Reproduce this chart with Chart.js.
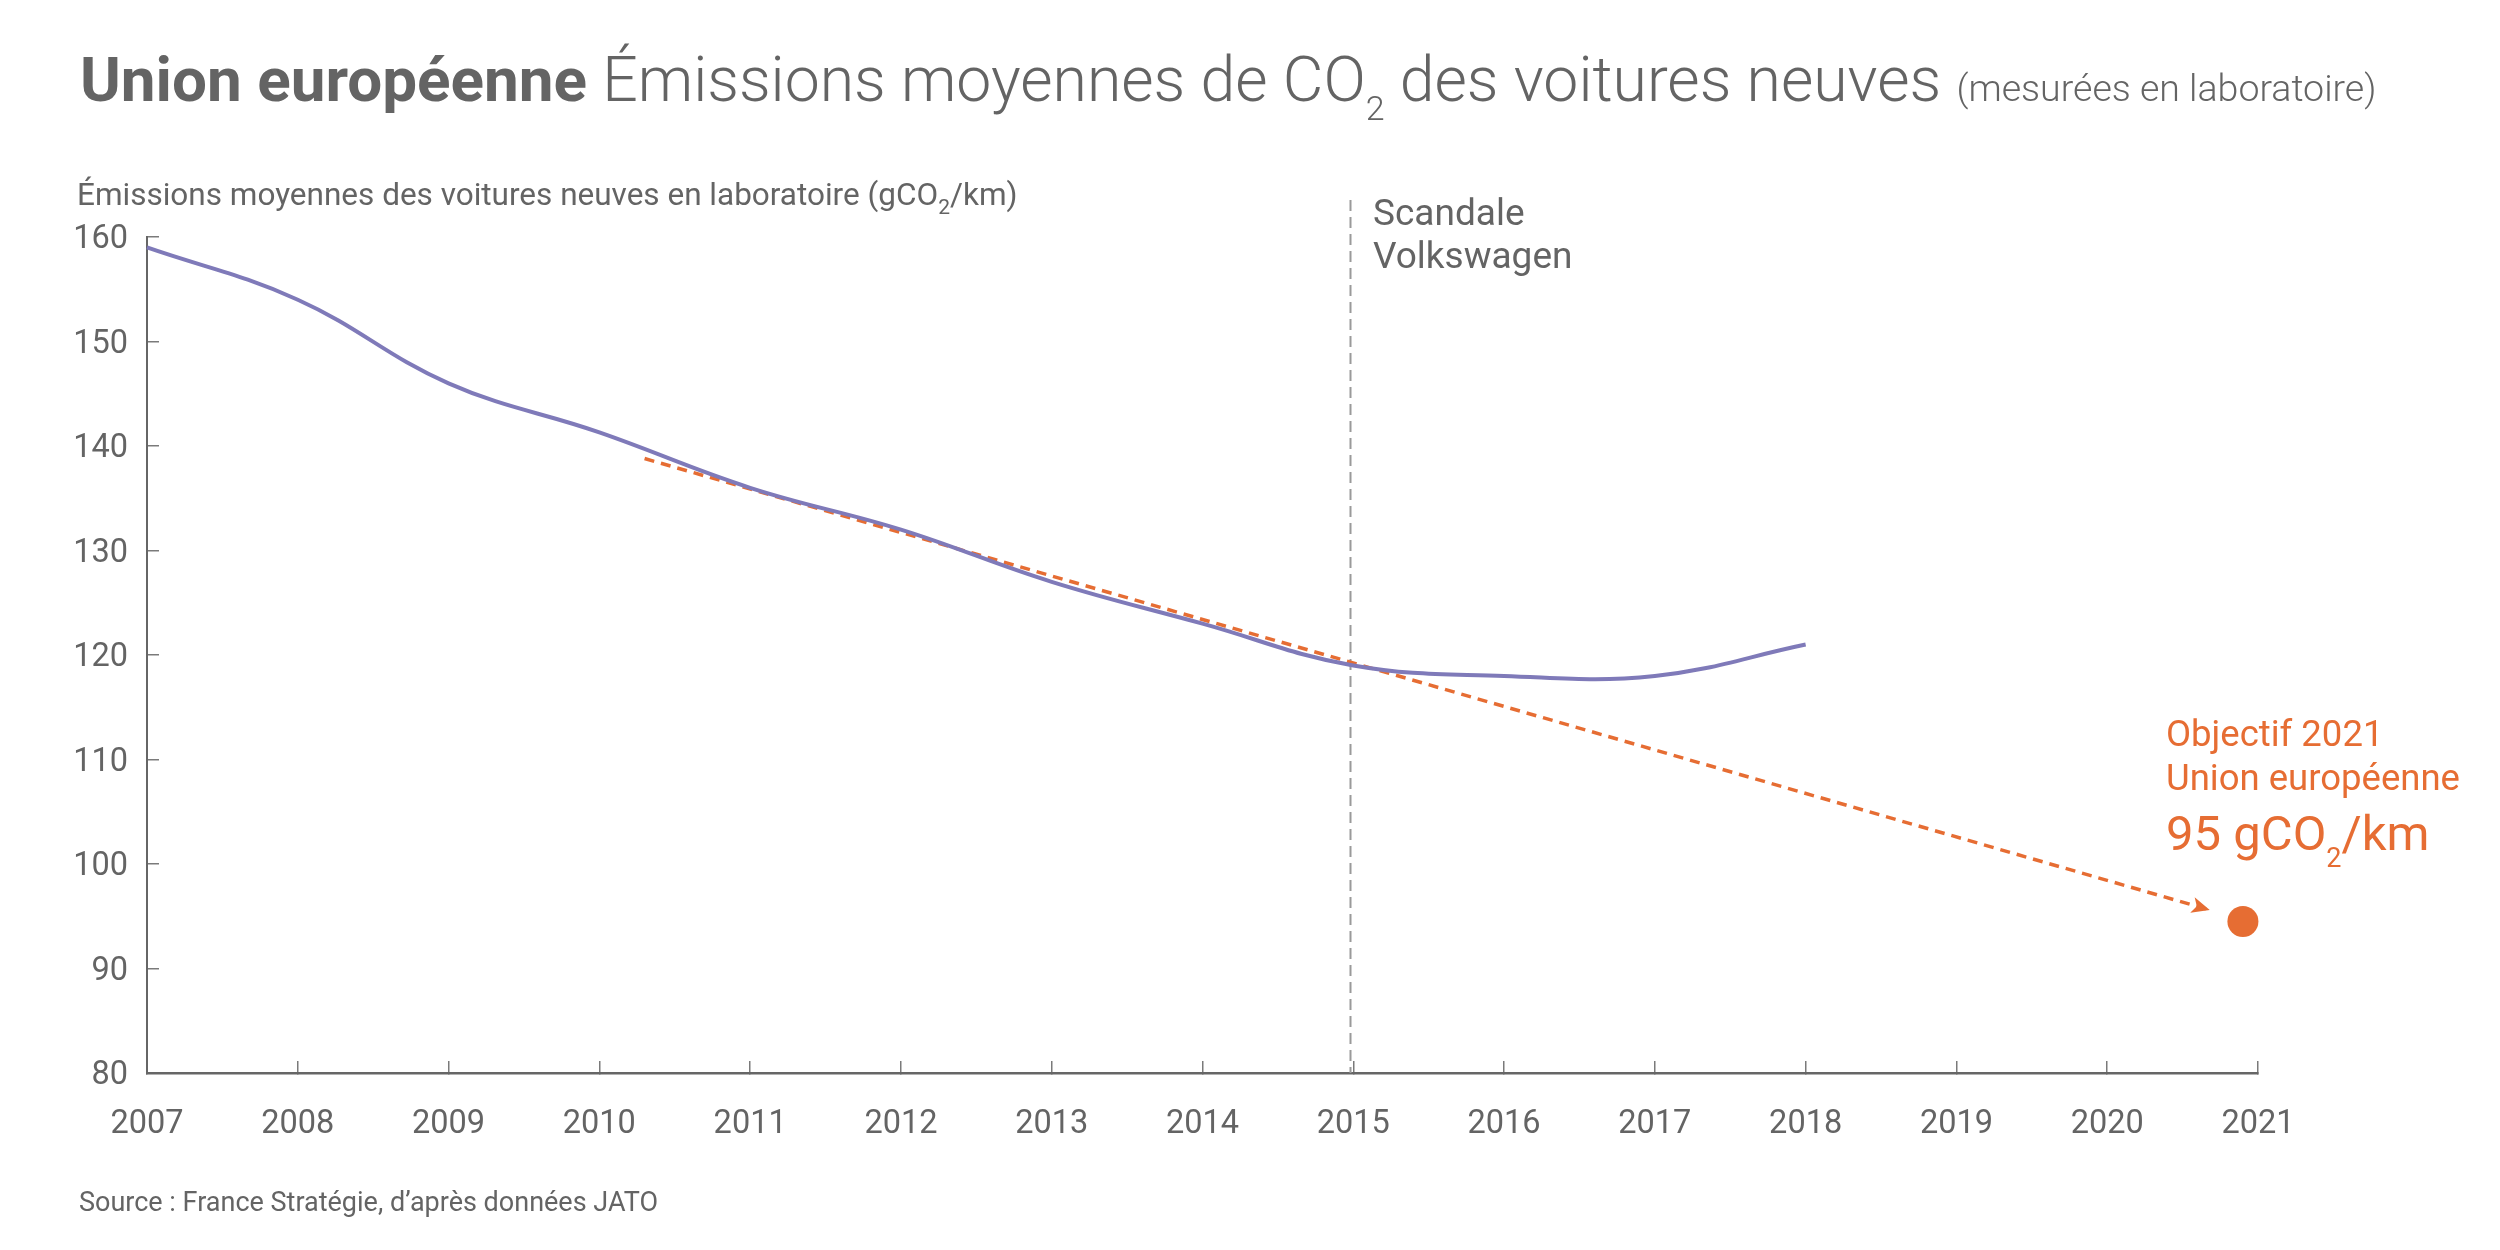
<!DOCTYPE html>
<html lang="fr">
<head>
<meta charset="utf-8">
<title>Union européenne – Émissions moyennes de CO2 des voitures neuves</title>
<script src="https://cdn.jsdelivr.net/npm/chart.js@4.4.1/dist/chart.umd.min.js"></script>
<style>
  html, body { margin: 0; padding: 0; background: #fff; }
  #wrap { position: relative; width: 2500px; height: 1250px; font-family: Roboto, "Noto Sans", sans-serif; color: #646464; }
  #chart { position: absolute; left: 0; top: 0; }
  .txt { position: absolute; line-height: 1; white-space: nowrap; }
  .sub { position: relative; vertical-align: baseline; }
  .orange { color: #e66d33; }
</style>
</head>
<body>
<div id="wrap">
  <canvas id="chart" width="2500" height="1250"></canvas>

  <div class="txt" style="left:80px; top:49px; font-size:62.5px; font-weight:300;"><b style="font-weight:700; font-size:62px;">Union européenne</b> Émissions moyennes de CO<span class="sub" style="font-size:34px; top:19px;">2</span> des voitures neuves <span style="font-size:37.5px;">(mesurées en laboratoire)</span></div>

  <div class="txt" style="left:77px; top:179px; font-size:31.5px;">Émissions moyennes des voitures neuves en laboratoire (gCO<span class="sub" style="font-size:21px; top:9px;">2</span>/km)</div>

  <div class="txt" style="left:1373px; top:194px; font-size:37px;">Scandale</div>
  <div class="txt" style="left:1373px; top:237px; font-size:37px;">Volkswagen</div>

  <div class="txt orange" style="left:2166px; top:716px; font-size:36.5px;">Objectif 2021</div>
  <div class="txt orange" style="left:2166px; top:760px; font-size:36.5px;">Union européenne</div>
  <div class="txt orange" style="left:2166px; top:809px; font-size:49px;">95 gCO<span class="sub" style="font-size:27px; top:17px;">2</span>/km</div>

  <div class="txt" style="left:79px; top:1189px; font-size:27px;">Source : France Stratégie, d’après données JATO</div>
</div>

<script>
// données
const years = [2007, 2008, 2009, 2010, 2011, 2012, 2013, 2014, 2015, 2016, 2017, 2018];
const emissions = [159, 154, 146, 141.3, 136, 132, 127, 123, 119, 118, 118, 121];

const trendYears = [2010.3, 2020.68];
const trendValues = [138.8, 95.6];

const targetYears = [2020.9];
const targetValues = [94.5];

const scandalYear = 2014.98;

const xMin = 2007, xMax = 2021;
const yMin = 80, yMax = 160, yStep = 10;

const textColor = '#646464';
const purple = '#7f7ab9';
const orange = '#e66d33';

const toPoints = (xs, ys) => xs.map((x, i) => ({ x: x, y: ys[i] }));

// ligne verticale "Scandale Volkswagen"
const scandalLine = {
    id: 'scandalLine',
    beforeDatasetsDraw(chart) {
        const { ctx, chartArea, scales } = chart;
        const x = Math.round(scales.x.getPixelForValue(scandalYear)) + 0.5;
        ctx.save();
        ctx.strokeStyle = '#9a9a9a';
        ctx.lineWidth = 2;
        ctx.setLineDash([11, 6]);
        ctx.beginPath();
        ctx.moveTo(x, chartArea.top - 37);
        ctx.lineTo(x, chartArea.bottom);
        ctx.stroke();
        ctx.restore();
    }
};

// pointe de flèche au bout de la tendance
const arrowHead = {
    id: 'arrowHead',
    afterDatasetsDraw(chart) {
        const meta = chart.getDatasetMeta(1);
        if (!meta || meta.data.length < 2) return;
        const p0 = meta.data[meta.data.length - 2];
        const p1 = meta.data[meta.data.length - 1];
        const a = Math.atan2(p1.y - p0.y, p1.x - p0.x);
        const len = 18, half = 8;
        const ctx = chart.ctx;
        ctx.save();
        ctx.fillStyle = orange;
        ctx.translate(p1.x, p1.y);
        ctx.rotate(a);
        ctx.beginPath();
        ctx.moveTo(0, 0);
        ctx.lineTo(-len, -half);
        ctx.lineTo(-len * 0.75, 0);
        ctx.lineTo(-len, half);
        ctx.closePath();
        ctx.fill();
        ctx.restore();
    }
};

new Chart(document.getElementById('chart'), {
    type: 'line',
    data: {
        datasets: [
            {
                label: 'Émissions moyennes',
                data: toPoints(years, emissions),
                borderColor: purple,
                borderWidth: 4,
                tension: 0.4,
                pointRadius: 0,
                fill: false
            },
            {
                label: 'Tendance',
                data: toPoints(trendYears, trendValues),
                borderColor: orange,
                borderWidth: 3.5,
                borderDash: [10, 7],
                tension: 0,
                pointRadius: 0,
                fill: false
            },
            {
                label: 'Objectif 2021',
                data: toPoints(targetYears, targetValues),
                showLine: false,
                pointRadius: 15.5,
                pointBackgroundColor: orange,
                pointBorderWidth: 0,
                borderColor: orange
            }
        ]
    },
    options: {
        responsive: false,
        animation: false,
        devicePixelRatio: 1,
        clip: false,
        layout: { padding: { left: 0, top: 237, right: 242, bottom: 0 } },
        plugins: {
            legend: { display: false },
            tooltip: { enabled: false },
            title: { display: false }
        },
        scales: {
            x: {
                type: 'linear',
                min: xMin,
                max: xMax,
                afterFit: (s) => { s.height = 177; },
                ticks: {
                    stepSize: 1,
                    autoSkip: false,
                    maxRotation: 0,
                    padding: 44,
                    color: textColor,
                    font: { family: 'Roboto', size: 32.5 },
                    callback: (v) => String(v)
                },
                grid: { drawOnChartArea: false, tickLength: -12, color: '#7a7a7a', lineWidth: 1.5 },
                border: { display: true, color: '#666666', width: 2.5 }
            },
            y: {
                min: yMin,
                max: yMax,
                afterFit: (s) => { s.width = 147; },
                ticks: {
                    stepSize: yStep,
                    padding: 31,
                    labelOffset: 3,
                    color: textColor,
                    font: { family: 'Roboto', size: 32.5 }
                },
                grid: { drawOnChartArea: false, tickLength: -12, color: '#7a7a7a', lineWidth: 1.5 },
                border: { display: true, color: '#666666', width: 2 }
            }
        }
    },
    plugins: [scandalLine, arrowHead]
});
</script>
</body>
</html>
